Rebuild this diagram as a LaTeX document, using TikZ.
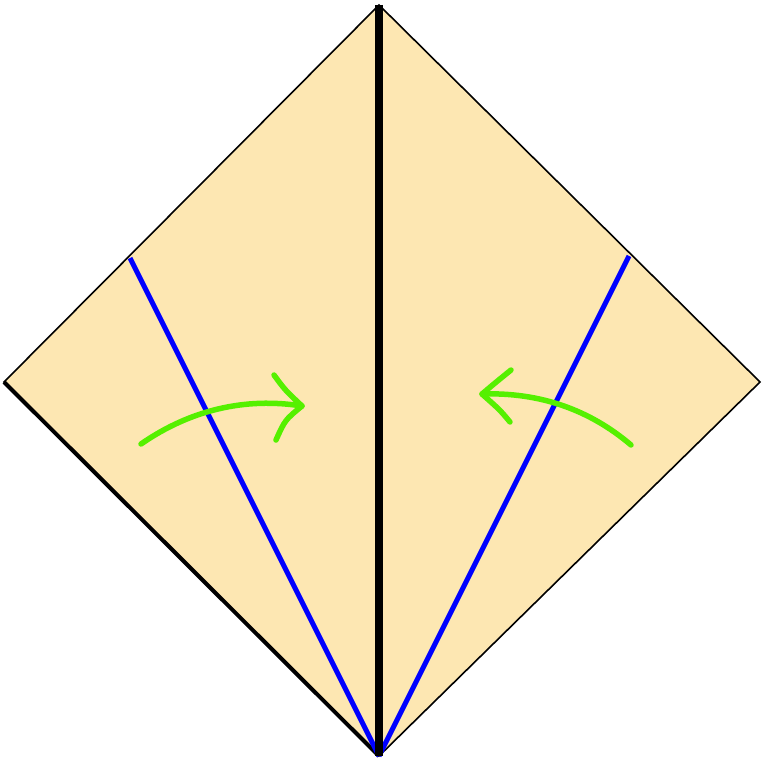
\documentclass[tikz,border=0pt]{standalone}
\begin{document}
\begin{tikzpicture}[x=1pt,y=-1pt,
  paper/.style={fill=paperfill,draw=black,line width=1.6pt,line join=miter},
  crease/.style={draw=blue,line width=5pt},
  fold/.style={draw=black,line width=7.5pt},
  motion/.style={draw=arrowgreen,line width=5.5pt,line cap=round,line join=round}]
\definecolor{paperfill}{RGB}{253,231,178}
\definecolor{arrowgreen}{RGB}{85,240,0}
\useasboundingbox (0,0) rectangle (768,768);
\coordinate (T) at (379,5);
\coordinate (R) at (760,382);
\coordinate (B) at (379,756);
\coordinate (L) at (4,382);
\coordinate (BL) at (130,258);
\coordinate (BR) at (629,256);
\path[paper] (T) -- (R) -- (B) -- (L) -- cycle;
\draw[black,line width=4pt] (L) -- (B);
\draw[crease] (BL) -- (B);
\draw[crease] (BR) -- (B);
\draw[fold] (T) -- (B);
% left arrow
\coordinate (la0) at (141,444);
\coordinate (la1) at (302,406);
\draw[motion] (la0) .. controls (190,410) and (245,397) .. (la1);
\draw[motion] (274,375) .. controls (285,390) .. (la1) .. controls (285,420) .. (276,440);
% right arrow
\coordinate (ra0) at (631,445);
\coordinate (ra1) at (482,394);
\draw[motion] (ra0) .. controls (590,410) and (540,392) .. (ra1);
\draw[motion] (511,370) .. controls (495,383) .. (ra1) .. controls (500,410) .. (510,422);
\end{tikzpicture}
\end{document}
